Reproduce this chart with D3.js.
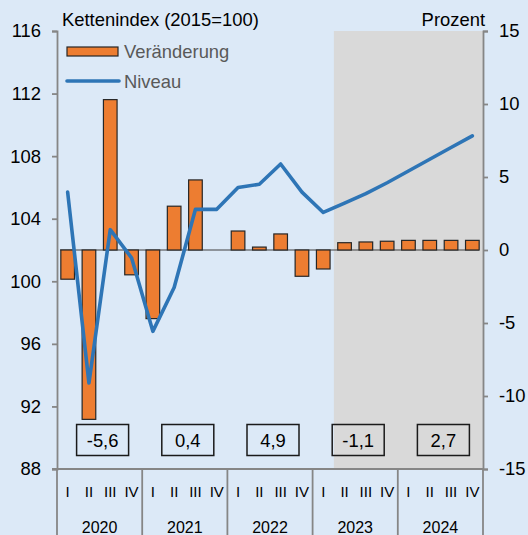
<!DOCTYPE html>
<html>
<head>
<meta charset="utf-8">
<script src="https://cdn.jsdelivr.net/npm/d3@7"></script>
<style>
  body { margin: 0; background: #dce9f7; }
  svg { display: block; font-family: "Liberation Sans", Arial, sans-serif; }
</style>
</head>
<body>
<div id="chart"></div>
<script>
var years = ["2020", "2021", "2022", "2023", "2024"];
var quarters = ["I", "II", "III", "IV"];
// Veränderung (Prozent, rechte Achse)
var veraenderung = [-2.0, -11.6, 10.3, -1.7,
                    -4.7, 3.0, 4.8, 0.0,
                    1.3, 0.2, 1.1, -1.8,
                    -1.3, 0.5, 0.55, 0.6,
                    0.66, 0.66, 0.66, 0.66];
// Niveau (Kettenindex 2015=100, linke Achse)
var niveau = [105.7, 93.5, 103.3, 101.5,
              96.8, 99.6, 104.6, 104.6,
              106.0, 106.2, 107.5, 105.7,
              104.4, 105.0, 105.6, 106.3,
              107.05, 107.8, 108.55, 109.3];
var jahreswerte = ["-5,6", "0,4", "4,9", "-1,1", "2,7"];
var leftTicks = [88, 92, 96, 100, 104, 108, 112, 116];
var rightTicks = [-15, -10, -5, 0, 5, 10, 15];
var prognoseStart = 13; // 2023 Q2

var width = 528, height = 535;
var margin = { top: 31, right: 45, bottom: 66, left: 57 };
var fs = 18.4;

var svg = d3.select("#chart").append("svg")
  .attr("width", width)
  .attr("height", height);

svg.append("rect")
  .attr("width", width).attr("height", height)
  .attr("fill", "#dce9f7");

var x0 = margin.left, x1 = width - margin.right;
var y0 = height - margin.bottom, y1 = margin.top;

var idx = d3.range(veraenderung.length);
var x = d3.scaleBand().domain(idx).range([x0, x1])
  .paddingInner(0.36).paddingOuter(0.18);
var xYear = d3.scaleBand().domain(years).range([x0, x1]);
var yL = d3.scaleLinear().domain([88, 116]).range([y0, y1]);
var yR = d3.scaleLinear().domain([-15, 15]).range([y0, y1]);
var step = x.step();

/* forecast shading */
var gx = x0 + prognoseStart * step;
svg.append("rect")
  .attr("x", gx).attr("y", y1)
  .attr("width", x1 - gx).attr("height", y0 - y1)
  .attr("fill", "#d9d9d9");

/* zero line of the right axis */
svg.append("line")
  .attr("x1", x0 + 3).attr("x2", x1 - 4)
  .attr("y1", yR(0)).attr("y2", yR(0))
  .attr("stroke", "#404040").attr("stroke-width", 1.2);

/* bars */
svg.selectAll(".bar")
  .data(veraenderung)
  .enter().append("rect")
  .attr("class", "bar")
  .attr("x", function (d, i) { return x(i); })
  .attr("y", function (d) { return yR(Math.max(0, d)); })
  .attr("width", x.bandwidth())
  .attr("height", function (d) { return Math.abs(yR(d) - yR(0)); })
  .attr("fill", "#ed7d31")
  .attr("stroke", "#262626")
  .attr("stroke-width", 1.2);

/* line */
var line = d3.line()
  .x(function (d, i) { return x(i) + x.bandwidth() / 2; })
  .y(function (d) { return yL(d); });

svg.append("path")
  .datum(niveau)
  .attr("d", line)
  .attr("fill", "none")
  .attr("stroke", "#2e75b6")
  .attr("stroke-width", 3.6)
  .attr("stroke-linejoin", "round")
  .attr("stroke-linecap", "round");

/* annual boxes */
var boxes = svg.selectAll(".box")
  .data(jahreswerte)
  .enter().append("g")
  .attr("transform", function (d, i) {
    return "translate(" + (xYear(years[i]) + xYear.bandwidth() / 2 + 3) + ",440)";
  });
boxes.append("rect")
  .attr("x", -26).attr("y", -15.5)
  .attr("width", 52).attr("height", 31)
  .attr("fill", "none")
  .attr("stroke", "#1a1a1a")
  .attr("stroke-width", 1.5);
boxes.append("text")
  .attr("text-anchor", "middle")
  .attr("dy", "0.36em")
  .attr("font-size", fs)
  .attr("fill", "#000")
  .text(function (d) { return d; });

/* axes */
var axisColor = "#868686";
svg.append("g")
  .attr("transform", "translate(" + x0 + ",0)")
  .call(d3.axisLeft(yL).tickValues(leftTicks).tickSize(5).tickPadding(11))
  .call(styleAxis);

svg.append("g")
  .attr("transform", "translate(" + x1 + ",0)")
  .call(d3.axisRight(yR).tickValues(rightTicks).tickSize(5).tickPadding(11)
    .tickFormat(function (d) { return d; }))
  .call(styleAxis)
  .selectAll("text").attr("x", 16);

function styleAxis(g) {
  g.select(".domain").attr("stroke", axisColor).attr("stroke-width", 1.8);
  g.selectAll(".tick line").attr("stroke", axisColor).attr("stroke-width", 1.8);
  g.selectAll(".tick text")
    .attr("font-size", fs)
    .attr("font-family", "Liberation Sans, Arial, sans-serif")
    .attr("fill", "#000");
}

/* category axis */
svg.append("line")
  .attr("x1", x0 - 5).attr("x2", x1)
  .attr("y1", y0).attr("y2", y0)
  .attr("stroke", axisColor).attr("stroke-width", 1.8);

var sepX = years.map(function (y) { return xYear(y); }).concat([x1]);
svg.selectAll(".sep")
  .data(sepX)
  .enter().append("line")
  .attr("x1", function (d) { return d; }).attr("x2", function (d) { return d; })
  .attr("y1", y0).attr("y2", height)
  .attr("stroke", axisColor).attr("stroke-width", 1.8);

svg.selectAll(".qlabel")
  .data(idx)
  .enter().append("text")
  .attr("x", function (i) { return x(i) + x.bandwidth() / 2; })
  .attr("y", 492)
  .attr("dy", "0.36em")
  .attr("text-anchor", "middle")
  .attr("font-size", 15)
  .attr("fill", "#000")
  .text(function (i) { return quarters[i % 4]; });

svg.selectAll(".ylabel")
  .data(years)
  .enter().append("text")
  .attr("x", function (d) { return xYear(d) + xYear.bandwidth() / 2; })
  .attr("y", 527)
  .attr("dy", "0.36em")
  .attr("text-anchor", "middle")
  .attr("font-size", 16)
  .attr("fill", "#000")
  .text(function (d) { return d; });

/* titles */
svg.append("text")
  .attr("x", 62).attr("y", 26)
  .attr("font-size", fs).attr("fill", "#000")
  .text("Kettenindex (2015=100)");
svg.append("text")
  .attr("x", 485).attr("y", 25.5)
  .attr("text-anchor", "end")
  .attr("font-size", fs).attr("fill", "#000")
  .text("Prozent");

/* legend */
svg.append("rect")
  .attr("x", 67).attr("y", 47).attr("width", 51).attr("height", 9)
  .attr("fill", "#ed7d31").attr("stroke", "#262626").attr("stroke-width", 1.2);
svg.append("text")
  .attr("x", 124).attr("y", 58)
  .attr("font-size", fs).attr("fill", "#595959")
  .text("Veränderung");
svg.append("line")
  .attr("x1", 67).attr("x2", 119).attr("y1", 81).attr("y2", 81)
  .attr("stroke", "#2e75b6").attr("stroke-width", 3.6)
  .attr("stroke-linecap", "round");
svg.append("text")
  .attr("x", 124).attr("y", 88)
  .attr("font-size", fs).attr("fill", "#595959")
  .text("Niveau");
</script>
</body>
</html>
